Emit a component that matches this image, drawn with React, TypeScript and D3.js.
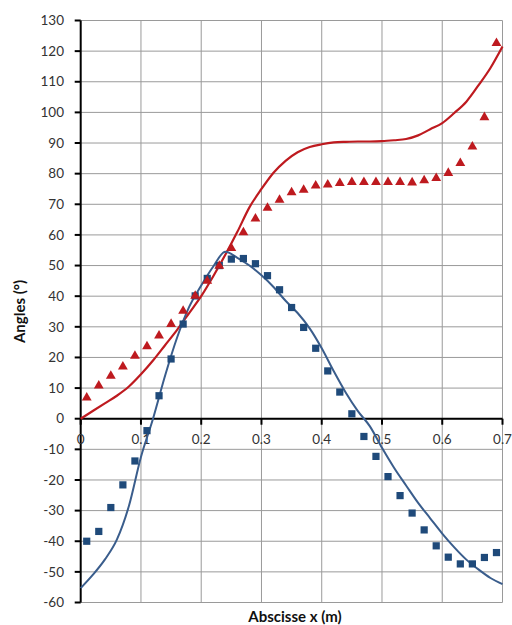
import React from "react";
import * as d3 from "d3";

const W = 512;
const H = 625;

// Measured markers: x positions and angles
const markerX = [0.01,0.03,0.05,0.07,0.09,0.11,0.13,0.15,0.17,0.19,0.21,0.23,0.25,0.27,0.29,0.31,0.33,0.35,0.37,0.39,0.41,0.43,0.45,0.47,0.49,0.51,0.53,0.55,0.57,0.59,0.61,0.63,0.65,0.67,0.69];
const redMarkers = [6.9,10.8,14,17,20.5,23.6,27.1,30.9,35.2,40.1,45,49.9,55.7,60.8,65.3,68.8,71.4,73.9,74.7,76.1,76.4,76.9,77.2,77.2,77.2,77.2,77.2,77.1,77.8,78.5,80.2,83.4,88.8,98.4,122.6];
const blueMarkers = [-40,-36.8,-29,-21.6,-13.8,-3.9,7.5,19.5,30.9,40.1,45.8,50,52.1,52.3,50.6,46.7,42.1,36.3,29.8,23,15.6,8.7,1.6,-5.8,-12.3,-18.9,-25.1,-30.8,-36.3,-41.5,-45.2,-47.4,-47.4,-45.3,-43.7];

// Model curves
const lineX = [0,0.02,0.04,0.06,0.08,0.1,0.12,0.14,0.16,0.18,0.2,0.22,0.24,0.26,0.28,0.3,0.32,0.34,0.36,0.38,0.4,0.42,0.44,0.46,0.48,0.5,0.52,0.54,0.56,0.58,0.6,0.62,0.64,0.66,0.68,0.7];
const redLine = [0,2.5,5,7.5,10.5,14.5,19,24,29,34.5,40,46.5,53.5,61,69,75,80.3,84.2,87,88.7,89.6,90.2,90.4,90.5,90.5,90.6,90.9,91.3,92.5,94.5,96.5,99.8,103.5,108.8,114.5,121.5];
const blueLine = [-55.3,-51,-46,-39.5,-28.5,-12.5,0,14,26.5,36.5,43.5,49.7,54.5,52.5,50,46.8,43,38.5,34.5,29.5,23,15.5,8.5,2.5,-2.5,-9.5,-16,-21.8,-27.5,-32.5,-37.5,-42,-46,-49.2,-52,-54];

const xTicks = [0,0.1,0.2,0.3,0.4,0.5,0.6,0.7];
const yTicks = [-60,-50,-40,-30,-20,-10,0,10,20,30,40,50,60,70,80,90,100,110,120,130];

const RED = "#BE1A1F";
const BLUE_M = "#1F4A7A";
const BLUE_L = "#3A5D8C";
const FONT = "Lato, 'Open Sans', sans-serif";

export default function App() {
  const x = d3.scaleLinear().domain([0, 0.7]).range([80.7, 502.5]);
  const y = d3.scaleLinear().domain([-60, 130]).range([602.5, 20.5]);

  const line = d3
    .line<number>()
    .x((_, i) => x(lineX[i]))
    .y((d) => y(d))
    .curve(d3.curveMonotoneX);

  const tri = d3.symbol().type(d3.symbolTriangle).size(42)();
  const sq = d3.symbol().type(d3.symbolSquare).size(52)();

  return (
    <svg width={W} height={H} style={{ position: "absolute", left: 0, top: 0, background: "#fff" }}>
      <rect x={0} y={0} width={W} height={H} fill="#fff" />
      {/* grid */}
      {yTicks.map((t) => (
        <line key={"gy" + t} x1={x(0)} x2={x(0.7)} y1={y(t)} y2={y(t)} stroke="#9A9A9A" strokeWidth={1} />
      ))}
      {xTicks.filter((t) => t > 0).map((t) => (
        <line key={"gx" + t} x1={x(t)} x2={x(t)} y1={y(130)} y2={y(-60)} stroke="#9A9A9A" strokeWidth={1} />
      ))}
      {/* y axis */}
      <line x1={x(0)} x2={x(0)} y1={y(130)} y2={y(-60)} stroke="#000" strokeWidth={2} />
      {yTicks.map((t) => (
        <g key={"yt" + t}>
          <line x1={x(0) - 6} x2={x(0)} y1={y(t)} y2={y(t)} stroke="#000" strokeWidth={2} />
          <text x={64} y={y(t)} dy="0.35em" textAnchor="end" fontFamily={FONT} fontSize={13.5} fill="#333">
            {t}
          </text>
        </g>
      ))}
      {/* x axis at y=0 */}
      <line x1={x(0)} x2={x(0.7)} y1={y(0)} y2={y(0)} stroke="#000" strokeWidth={2} />
      {xTicks.map((t) => (
        <g key={"xt" + t}>
          <line x1={x(t)} x2={x(t)} y1={y(0)} y2={y(0) + 6} stroke="#000" strokeWidth={2} />
          <text x={x(t)} y={y(0) + 25} textAnchor="middle" fontFamily={FONT} fontSize={13.5} fill="#333">
            {t}
          </text>
        </g>
      ))}
      {/* lines */}
      <path d={line(redLine) || ""} fill="none" stroke={RED} strokeWidth={2.2} />
      <path d={line(blueLine) || ""} fill="none" stroke={BLUE_L} strokeWidth={2} />
      {/* markers */}
      {markerX.map((mx, i) => (
        <path key={"b" + i} d={sq || ""} transform={`translate(${x(mx)},${y(blueMarkers[i])})`} fill={BLUE_M} />
      ))}
      {markerX.map((mx, i) => (
        <path key={"r" + i} d={tri || ""} transform={`translate(${x(mx)},${y(redMarkers[i])})`} fill={RED} />
      ))}
      {/* titles */}
      <text
        transform={`translate(25,${(y(130) + y(-60)) / 2}) rotate(-90)`}
        textAnchor="middle"
        fontFamily={FONT}
        fontWeight="bold"
        fontSize={15}
        fill="#111"
      >
        Angles (°)
      </text>
      <text x={295} y={622} textAnchor="middle" fontFamily={FONT} fontWeight="bold" fontSize={15} fill="#111">
        Abscisse x (m)
      </text>
    </svg>
  );
}
